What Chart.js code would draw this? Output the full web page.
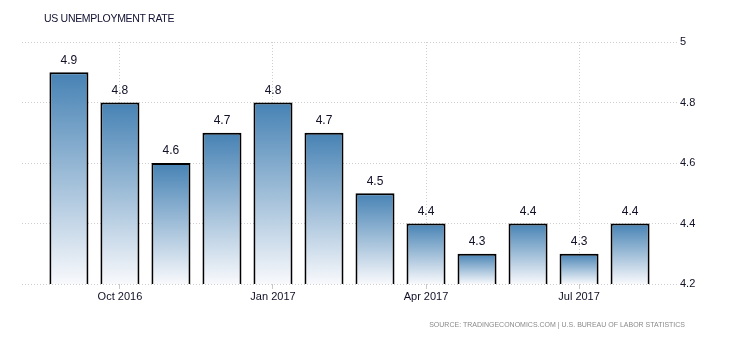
<!DOCTYPE html>
<html>
<head>
<meta charset="utf-8">
<script src="https://cdn.jsdelivr.net/npm/chart.js@4"></script>
<style>
html,body{margin:0;padding:0;background:#fff;}
#wrap{position:relative;width:730px;height:340px;}
#title{position:absolute;left:44px;top:12px;font:10.5px "Liberation Sans",Arial,sans-serif;letter-spacing:-0.3px;color:#101030;white-space:nowrap;}
#source{position:absolute;right:45px;top:321px;font:7px "Liberation Sans",Arial,sans-serif;color:#8a8a8a;white-space:nowrap;}
</style>
</head>
<body>
<div id="wrap">
  <canvas id="chart"></canvas>
  <div id="title">US UNEMPLOYMENT RATE</div>
  <div id="source">SOURCE: TRADINGECONOMICS.COM | U.S. BUREAU OF LABOR STATISTICS</div>
</div>
<script>
// data
const months=['Sep 2016','Oct 2016','Nov 2016','Dec 2016','Jan 2017','Feb 2017','Mar 2017','Apr 2017','May 2017','Jun 2017','Jul 2017','Aug 2017'];
const rates=[4.9,4.8,4.6,4.7,4.8,4.7,4.5,4.4,4.3,4.4,4.3,4.4];
const yTicks=[4.2,4.4,4.6,4.8,5];
const xTickIdx=[1,4,7,10];

const font={family:'"Liberation Sans", Arial, sans-serif',size:11};

// value labels above each bar
const barLabels={
  id:'barLabels',
  afterDatasetsDraw(chart){
    const c=chart.ctx;
    c.save();
    c.font='12px "Liberation Sans", Arial, sans-serif';
    c.fillStyle='#101028';
    c.textAlign='center';
    c.textBaseline='bottom';
    chart.getDatasetMeta(0).data.forEach((bar,i)=>{
      c.fillText(rates[i].toFixed(1),bar.x,bar.y-6);
    });
    c.restore();
  }
};

new Chart(document.getElementById('chart'),{
  type:'bar',
  data:{
    datasets:[{
      data:rates.map((v,i)=>({x:i,y:v})),
      backgroundColor:ctx=>{
        const ch=ctx.chart,y=ch.scales.y;
        if(!ch.chartArea||!y||!ctx.parsed)return '#4682b4';
        const top=y.getPixelForValue(ctx.parsed.y),bot=y.getPixelForValue(yTicks[0]);
        const g=ch.ctx.createLinearGradient(0,top,0,bot);
        g.addColorStop(0,'#4682b4');
        g.addColorStop(1,'#f8f9fc');
        return g;
      },
      borderColor:'#000',
      borderWidth:2,
      borderSkipped:false,
      barPercentage:0.765,
      categoryPercentage:1
    }]
  },
  options:{
    responsive:true,
    maintainAspectRatio:false,
    animation:false,
    layout:{padding:{left:22,top:42,right:0,bottom:0}},
    plugins:{legend:{display:false},tooltip:{enabled:false}},
    scales:{
      x:{
        type:'linear',
        offset:false,
        min:-0.92,max:11.92,
        afterBuildTicks:s=>{s.ticks=xTickIdx.map(v=>({value:v}));},
        afterFit:s=>{s.height=56;},
        ticks:{autoSkip:false,maxRotation:0,padding:1,color:'#101028',font,callback:v=>months[v]},
        grid:{offset:false,color:'#cfcfcf',tickLength:5,tickColor:'#c8c8c8',borderDash:[1,2],tickBorderDash:[]},
        border:{display:false,dash:[1,2]}
      },
      y:{
        position:'right',
        min:4.2,max:5,
        afterBuildTicks:s=>{s.ticks=yTicks.map(v=>({value:v}));},
        afterFit:s=>{s.width=53;},
        ticks:{padding:3,color:'#101028',font,callback:v=>String(v)},
        grid:{color:'#cfcfcf',drawTicks:false,borderDash:[1,2]},
        border:{display:false,dash:[1,2]}
      }
    }
  },
  plugins:[barLabels]
});
</script>
</body>
</html>
